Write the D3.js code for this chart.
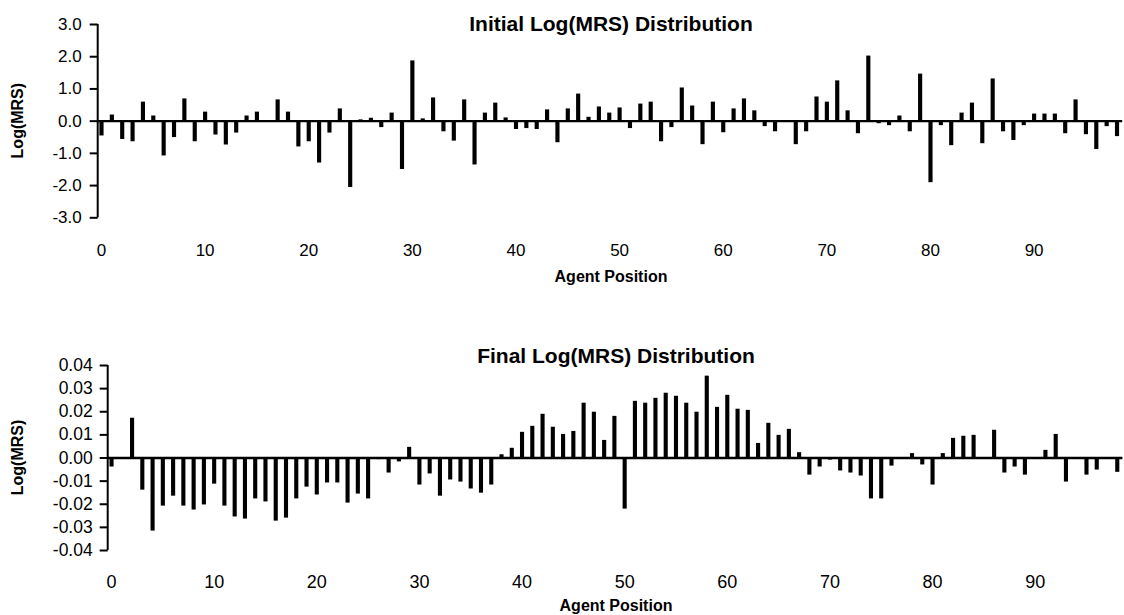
<!DOCTYPE html>
<html>
<head>
<meta charset="utf-8">
<script src="https://cdn.jsdelivr.net/npm/d3@7"></script>
<style>
  html, body { margin: 0; padding: 0; background: #fff; }
  svg { display: block; font-family: "Liberation Sans", Arial, sans-serif; }
</style>
</head>
<body>
<svg id="chart" width="1124" height="615"></svg>
<script>
// Agent positions 0..98
const positions = d3.range(99);

// Initial log(MRS) per agent
const initialLogMRS = [
  -0.46, 0.19, -0.57, -0.64, 0.59, 0.16, -1.08, -0.51, 0.69, -0.64,
  0.28, -0.43, -0.74, -0.37, 0.16, 0.28, 0.02, 0.66, 0.28, -0.80,
  -0.64, -1.30, -0.37, 0.38, -2.06, 0.04, 0.09, -0.20, 0.25, -1.50,
  1.87, 0.07, 0.72, -0.33, -0.62, 0.66, -1.36, 0.25, 0.56, 0.10,
  -0.26, -0.23, -0.26, 0.35, -0.67, 0.38, 0.84, 0.12, 0.44, 0.25,
  0.41, -0.23, 0.53, 0.59, -0.64, -0.20, 1.03, 0.47, -0.73, 0.59,
  -0.36, 0.38, 0.69, 0.32, -0.17, -0.33, 0.01, -0.73, -0.33, 0.75,
  0.59, 1.25, 0.32, -0.39, 2.02, -0.08, -0.14, 0.16, -0.33, 1.46,
  -1.91, -0.14, -0.76, 0.25, 0.56, -0.70, 1.31, -0.33, -0.60, -0.14,
  0.22, 0.22, 0.22, -0.39, 0.66, -0.42, -0.88, -0.17, -0.48
];

// Final log(MRS) per agent
const finalLogMRS = [
  -0.0039, 0, 0.0172, -0.0139, -0.0316, -0.0208, -0.0165, -0.0208, -0.0225, -0.0203,
  -0.0113, -0.0208, -0.0255, -0.0264, -0.0177, -0.0190, -0.0273, -0.0260, -0.0177, -0.0126,
  -0.0160, -0.0108, -0.0108, -0.0195, -0.0156, -0.0177, -0.0007, -0.0065, -0.0017, 0.0046,
  -0.0117, -0.0069, -0.0165, -0.0095, -0.0104, -0.0134, -0.0152, -0.0117, 0.0014, 0.0042,
  0.0111, 0.0137, 0.0189, 0.0133, 0.0102, 0.0115, 0.0237, 0.0198, 0.0076, 0.0180,
  -0.0221, 0.0245, 0.0237, 0.0258, 0.0280, 0.0267, 0.0237, 0.0198, 0.0354, 0.0219,
  0.0271, 0.0211, 0.0206, 0.0063, 0.0150, 0.0098, 0.0124, 0.0023, -0.0074, -0.0039,
  -0.0009, -0.0056, -0.0065, -0.0078, -0.0177, -0.0177, -0.0035, 0, 0.0019, -0.0030,
  -0.0117, 0.0019, 0.0085, 0.0094, 0.0098, 0, 0.0120, -0.0065, -0.0039, -0.0074,
  0, 0.0033, 0.0102, -0.0104, 0, -0.0074, -0.0052, 0, -0.0062
];

// Axis tick values
const xTickValues = [0, 10, 20, 30, 40, 50, 60, 70, 80, 90];
const initialYTicks = [-3, -2, -1, 0, 1, 2, 3];
const finalYTicks = [-0.04, -0.03, -0.02, -0.01, 0, 0.01, 0.02, 0.03, 0.04];

const svg = d3.select("#chart");

function drawPanel(cfg) {
  const g = svg.append("g");

  const x = d3.scaleBand()
    .domain(positions)
    .range([cfg.xLeft, cfg.xRight])
    .paddingInner(0.6)
    .paddingOuter(0.3);

  const y = d3.scaleLinear()
    .domain(cfg.yDomain)
    .range([cfg.yBottom, cfg.yTop]);

  // bars
  g.append("g").selectAll("rect")
    .data(cfg.values)
    .join("rect")
    .attr("x", (d, i) => x(positions[i]))
    .attr("width", x.bandwidth())
    .attr("y", d => Math.min(y(d), y(0)))
    .attr("height", d => Math.abs(y(d) - y(0)))
    .attr("fill", "#000");

  // zero baseline
  g.append("line")
    .attr("x1", cfg.axisX).attr("x2", cfg.xRight)
    .attr("y1", y(0) + 0.5).attr("y2", y(0) + 0.5)
    .attr("stroke", "#000").attr("stroke-width", 2.4);

  // y axis
  const yAxis = d3.axisLeft(y)
    .tickValues(cfg.yTicks)
    .tickFormat(d => d.toFixed(cfg.decimals))
    .tickSize(8)
    .tickPadding(cfg.yTickPad);
  const ya = g.append("g")
    .attr("transform", `translate(${cfg.axisX},0)`)
    .call(yAxis);
  ya.select(".domain").attr("stroke", "#000").attr("stroke-width", 2).attr("d",
    `M0,${cfg.yTop}V${cfg.yBottom}`);
  ya.selectAll(".tick line").attr("stroke", "#000").attr("stroke-width", 2);
  ya.selectAll(".tick text")
    .attr("fill", "#000")
    .style("font-size", cfg.yTickFont + "px")
    .style("font-family", "'Liberation Sans', Arial, sans-serif");

  // x tick labels (category axis without line)
  const xAxis = d3.axisBottom(x)
    .tickValues(xTickValues)
    .tickSize(0)
    .tickPadding(0);
  const xa = g.append("g")
    .attr("transform", `translate(0,${cfg.xLabelY})`)
    .call(xAxis);
  xa.select(".domain").remove();
  xa.selectAll(".tick text")
    .attr("fill", "#000")
    .attr("dy", 0)
    .style("font-size", cfg.xTickFont + "px")
    .style("font-family", "'Liberation Sans', Arial, sans-serif");

  // chart title
  g.append("text")
    .attr("x", cfg.titleX).attr("y", cfg.titleY)
    .attr("text-anchor", "middle")
    .style("font-weight", "bold")
    .style("font-size", "21px")
    .attr("fill", "#000")
    .text(cfg.title);

  // x axis title
  g.append("text")
    .attr("x", cfg.titleX).attr("y", cfg.xTitleY)
    .attr("text-anchor", "middle")
    .style("font-weight", "bold")
    .style("font-size", "16px")
    .attr("fill", "#000")
    .text("Agent Position");

  // y axis title
  g.append("text")
    .attr("transform", `translate(${cfg.yTitleX},${(cfg.yTop + cfg.yBottom) / 2}) rotate(-90)`)
    .attr("text-anchor", "middle")
    .style("font-weight", "bold")
    .style("font-size", "16px")
    .attr("fill", "#000")
    .text("Log(MRS)");
}

drawPanel({
  values: initialLogMRS,
  title: "Initial Log(MRS) Distribution",
  xLeft: 96.3, xRight: 1122.2, axisX: 97.7,
  yDomain: [-3, 3], yTop: 24, yBottom: 217.3,
  yTicks: initialYTicks, decimals: 1, yTickFont: 17, yTickPad: 8,
  xLabelY: 256, xTickFont: 17,
  titleX: 611, titleY: 31,
  xTitleY: 282, yTitleX: 23
});

drawPanel({
  values: finalLogMRS,
  title: "Final Log(MRS) Distribution",
  xLeft: 106.4, xRight: 1122.4, axisX: 107.7,
  yDomain: [-0.04, 0.04], yTop: 365, yBottom: 550,
  yTicks: finalYTicks, decimals: 2, yTickFont: 17.5, yTickPad: 7,
  xLabelY: 588, xTickFont: 18,
  titleX: 616, titleY: 363,
  xTitleY: 611, yTitleX: 23
});
</script>
</body>
</html>
